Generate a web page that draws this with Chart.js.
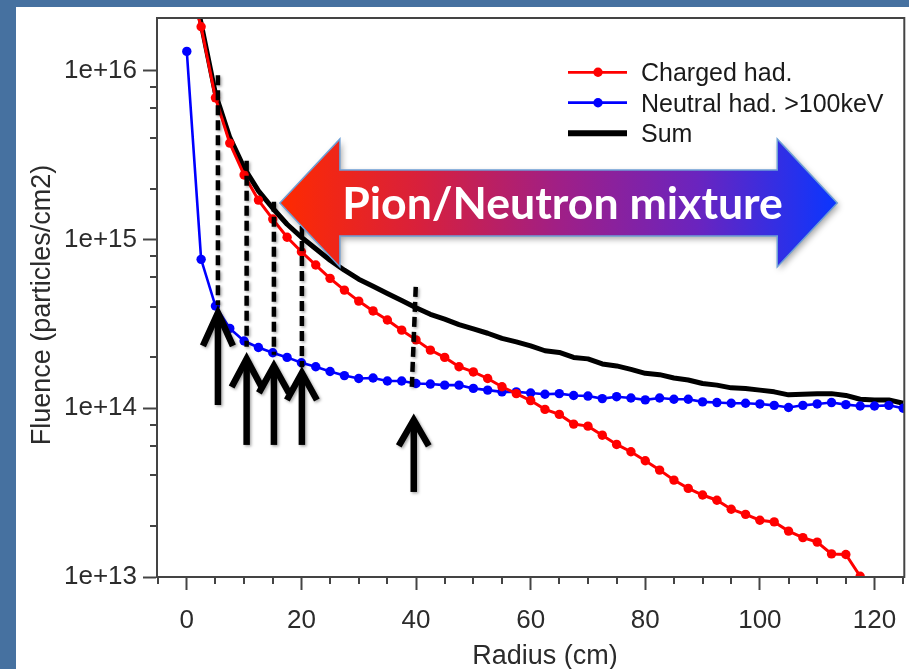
<!DOCTYPE html>
<html>
<head>
<meta charset="utf-8">
<script src="https://cdn.jsdelivr.net/npm/chart.js@4.4.1/dist/chart.umd.min.js"></script>
<style>
  html, body { margin: 0; padding: 0; width: 909px; height: 669px; overflow: hidden; background: #4671a0; }
  #wrap { position: absolute; left: 16px; top: 7px; width: 893px; height: 662px; background: #ffffff; }
  canvas { display: block; }
</style>
</head>
<body>
<div id="wrap"><canvas id="fluence" width="893" height="662"></canvas></div>
<script>
// Radial positions of the scoring bins (cm)
const radius = [0, 2.5, 5, 7.5, 10, 12.5, 15, 17.5, 20, 22.5, 25, 27.5, 30, 32.5, 35, 37.5, 40,
  42.5, 45, 47.5, 50, 52.5, 55, 57.5, 60, 62.5, 65, 67.5, 70, 72.5, 75, 77.5, 80, 82.5, 85, 87.5,
  90, 92.5, 95, 97.5, 100, 102.5, 105, 107.5, 110, 112.5, 115, 117.5, 120, 122.5, 125];

// Fluence per species (particles/cm2)
const chargedHad = [3.6e16, 1.82e16, 6.9e15, 3.72e15, 2.41e15, 1.71e15, 1.32e15, 1.03e15, 8.45e14,
  7.05e14, 5.88e14, 5.01e14, 4.31e14, 3.77e14, 3.33e14, 2.90e14, 2.54e14, 2.21e14, 2.00e14, 1.76e14,
  1.64e14, 1.50e14, 1.34e14, 1.22e14, 1.11e14, 9.84e13, 9.19e13, 8.05e13, 7.83e13, 6.92e13, 6.10e13,
  5.52e13, 4.88e13, 4.30e13, 3.75e13, 3.35e13, 3.06e13, 2.85e13, 2.52e13, 2.35e13, 2.17e13, 2.12e13,
  1.87e13, 1.71e13, 1.61e13, 1.37e13, 1.36e13, 1.01e13, null, null, null];

const neutralHad = [1.30e16, 7.62e14, 4.03e14, 2.97e14, 2.50e14, 2.29e14, 2.13e14, 2.00e14, 1.86e14,
  1.76e14, 1.65e14, 1.56e14, 1.50e14, 1.51e14, 1.45e14, 1.45e14, 1.40e14, 1.39e14, 1.37e14, 1.37e14,
  1.31e14, 1.28e14, 1.25e14, 1.25e14, 1.23e14, 1.21e14, 1.22e14, 1.19e14, 1.18e14, 1.14e14, 1.17e14,
  1.15e14, 1.12e14, 1.15e14, 1.13e14, 1.13e14, 1.09e14, 1.08e14, 1.07e14, 1.07e14, 1.06e14, 1.04e14,
  1.01e14, 1.04e14, 1.06e14, 1.08e14, 1.05e14, 1.03e14, 1.03e14, 1.04e14, 1.00e14];

const sumHad = [4.9e16, 1.90e16, 7.3e15, 4.02e15, 2.66e15, 1.94e15, 1.53e15, 1.23e15, 1.03e15,
  8.81e14, 7.53e14, 6.57e14, 5.81e14, 5.28e14, 4.78e14, 4.35e14, 3.94e14, 3.60e14, 3.37e14, 3.13e14,
  2.95e14, 2.78e14, 2.59e14, 2.47e14, 2.34e14, 2.19e14, 2.14e14, 2.00e14, 1.96e14, 1.83e14, 1.78e14,
  1.70e14, 1.61e14, 1.58e14, 1.51e14, 1.47e14, 1.40e14, 1.37e14, 1.32e14, 1.31e14, 1.28e14, 1.25e14,
  1.20e14, 1.21e14, 1.22e14, 1.22e14, 1.19e14, 1.13e14, 1.12e14, 1.12e14, 1.07e14];

const seriesLabels = ['Charged had.', 'Neutral had. >100keV', 'Sum'];

// Axis ticks
const xTickValues = [0, 20, 40, 60, 80, 100, 120];
const xTickLabels = ['0', '20', '40', '60', '80', '100', '120'];
const yTickValues = [1e13, 1e14, 1e15, 1e16];
const yTickLabels = ['1e+13', '1e+14', '1e+15', '1e+16'];
const xTitle = 'Radius (cm)';
const yTitle = 'Fluence (particles/cm2)';

// Annotation overlay, given in axis units (cm, particles/cm2)
const guideLines = [
  { x1: 5.43,  y1: 9.4e15,  x2: 5.43,  y2: 4.09e14 },
  { x1: 10.44, y1: 2.92e15, x2: 10.44, y2: 2.31e14 },
  { x1: 15.2,  y1: 1.67e15, x2: 15.2,  y2: 2.07e14 },
  { x1: 20.08, y1: 1.20e15, x2: 20.08, y2: 1.75e14 },
  { x1: 39.95, y1: 5.23e14, x2: 39.26, y2: 1.32e14 }
];
const upArrows = [
  { x: 5.43,  tip: 3.82e14,  tail: 1.045e14, len: 36 },
  { x: 10.44, tip: 2.04e14,  tail: 6.06e13,  len: 31 },
  { x: 15.2,  tip: 1.854e14, tail: 6.06e13,  len: 30 },
  { x: 20.08, tip: 1.685e14, tail: 6.06e13,  len: 30 },
  { x: 39.6,  tip: 8.87e13,  tail: 3.19e13,  len: 29 }
];
const mixtureBand = { from: 16.24, to: 113.5, center: 1.645e15, text: 'Pion/Neutron mixture' };

const FONT = '"Liberation Sans", Arial, Helvetica, sans-serif';
const INK = '#2b2b2b';
const AXIS = '#444444';
const DOT = 4.7;

const toPoints = vals => radius.map((r, i) => ({ x: r, y: vals[i] }));

// Frame, minor ticks, guide lines, arrows and the banner
const overlay = {
  id: 'overlay',
  afterDatasetsDraw(chart) {
    const { ctx, chartArea: a, scales: { x, y } } = chart;
    ctx.save();
    ctx.strokeStyle = AXIS;
    ctx.lineWidth = 2;
    ctx.strokeRect(a.left, a.top, a.right - a.left, a.bottom - a.top);

    // minor ticks
    ctx.beginPath();
    for (let n = 13; n <= 15; n++) {
      for (const m of [2, 4, 6, 8]) {
        const py = Math.round(y.getPixelForValue(m * Math.pow(10, n)));
        ctx.moveTo(a.left - 7, py);
        ctx.lineTo(a.left, py);
      }
    }
    for (let v = -5; v <= 125; v += 5) {
      if (v % 20 === 0) continue;
      const px = Math.round(x.getPixelForValue(v));
      ctx.moveTo(px, a.bottom);
      ctx.lineTo(px, a.bottom + 7);
    }
    ctx.stroke();

    // dashed guides
    ctx.shadowColor = 'rgba(0,0,0,0.35)';
    ctx.shadowBlur = 3;
    ctx.shadowOffsetX = 1.5;
    ctx.shadowOffsetY = 1.5;
    ctx.strokeStyle = '#000';
    ctx.lineWidth = 4.5;
    ctx.setLineDash([10, 5]);
    for (const g of guideLines) {
      ctx.beginPath();
      ctx.moveTo(x.getPixelForValue(g.x1), y.getPixelForValue(g.y1));
      ctx.lineTo(x.getPixelForValue(g.x2), y.getPixelForValue(g.y2));
      ctx.stroke();
    }
    ctx.setLineDash([]);

    // upward arrows
    ctx.lineWidth = 6.5;
    ctx.lineJoin = 'miter';
    ctx.lineCap = 'butt';
    for (const ar of upArrows) {
      const px = x.getPixelForValue(ar.x);
      const tipY = y.getPixelForValue(ar.tip);
      const tailY = y.getPixelForValue(ar.tail);
      const half = 15;
      ctx.beginPath();
      ctx.moveTo(px, tailY);
      ctx.lineTo(px, tipY + 4);
      ctx.stroke();
      ctx.beginPath();
      ctx.moveTo(px - half, tipY + ar.len);
      ctx.lineTo(px, tipY + 3);
      ctx.lineTo(px + half, tipY + ar.len);
      ctx.stroke();
    }

    // double-headed banner
    const x1 = x.getPixelForValue(mixtureBand.from);
    const x2 = x.getPixelForValue(mixtureBand.to);
    const yc = y.getPixelForValue(mixtureBand.center);
    const headLen = 60, headHalf = 64, shaftHalf = 33;
    ctx.beginPath();
    ctx.moveTo(x1, yc);
    ctx.lineTo(x1 + headLen, yc - headHalf);
    ctx.lineTo(x1 + headLen, yc - shaftHalf);
    ctx.lineTo(x2 - headLen, yc - shaftHalf);
    ctx.lineTo(x2 - headLen, yc - headHalf);
    ctx.lineTo(x2, yc);
    ctx.lineTo(x2 - headLen, yc + headHalf);
    ctx.lineTo(x2 - headLen, yc + shaftHalf);
    ctx.lineTo(x1 + headLen, yc + shaftHalf);
    ctx.lineTo(x1 + headLen, yc + headHalf);
    ctx.closePath();
    const grad = ctx.createLinearGradient(x1, 0, x2, 0);
    grad.addColorStop(0, '#ff2a00');
    grad.addColorStop(0.25, '#d8203c');
    grad.addColorStop(0.5, '#a01f86');
    grad.addColorStop(0.75, '#6a24bf');
    grad.addColorStop(1, '#0a36ff');
    ctx.shadowColor = 'rgba(0,0,0,0.35)';
    ctx.shadowBlur = 6;
    ctx.shadowOffsetX = 2;
    ctx.shadowOffsetY = 3;
    ctx.fillStyle = grad;
    ctx.fill();
    ctx.shadowColor = 'transparent';
    ctx.lineWidth = 1.5;
    ctx.lineJoin = 'miter';
    ctx.strokeStyle = '#6d9fd6';
    ctx.stroke();

    ctx.fillStyle = '#ffffff';
    let size = 43;
    ctx.font = `bold ${size}px Lato, "Open Sans", sans-serif`;
    const w = ctx.measureText(mixtureBand.text).width;
    size = size * 441 / w;
    ctx.font = `bold ${size.toFixed(1)}px Lato, "Open Sans", sans-serif`;
    ctx.textAlign = 'center';
    ctx.textBaseline = 'alphabetic';
    ctx.fillText(mixtureBand.text, (x1 + x2) / 2 + 4, yc + 16);
    ctx.restore();
  },
  afterDraw(chart) {
    const { ctx } = chart;
    ctx.save();
    // legend, inside the plot at top right
    const rows = [65.3, 95.7, 126.3];
    chart.data.datasets.forEach((ds, i) => {
      const yy = rows[i];
      ctx.strokeStyle = ds.borderColor;
      ctx.lineWidth = i === 2 ? 6 : 2.8;
      ctx.beginPath();
      ctx.moveTo(552, yy);
      ctx.lineTo(611, yy);
      ctx.stroke();
      if (ds.pointRadius > 0) {
        ctx.fillStyle = ds.pointBackgroundColor;
        ctx.beginPath();
        ctx.arc(582, yy, DOT, 0, Math.PI * 2);
        ctx.fill();
      }
      ctx.fillStyle = '#1a1a1a';
      ctx.font = `25px ${FONT}`;
      ctx.textAlign = 'left';
      ctx.textBaseline = 'alphabetic';
      ctx.fillText(ds.label, 625, yy + 9);
    });

    // axis titles
    ctx.fillStyle = INK;
    ctx.font = `27px ${FONT}`;
    ctx.textAlign = 'center';
    ctx.textBaseline = 'alphabetic';
    ctx.fillText(xTitle, 529, 657);
    ctx.translate(34, 298);
    ctx.rotate(-Math.PI / 2);
    ctx.fillText(yTitle, 0, 0);
    ctx.restore();
  }
};

new Chart(document.getElementById('fluence'), {
  type: 'line',
  data: {
    datasets: [
      { label: seriesLabels[0], data: toPoints(chargedHad), borderColor: '#ff0000', backgroundColor: '#ff0000',
        pointBackgroundColor: '#ff0000', pointRadius: DOT, pointBorderWidth: 0, borderWidth: 3, order: 1 },
      { label: seriesLabels[1], data: toPoints(neutralHad), borderColor: '#0000ff', backgroundColor: '#0000ff',
        pointBackgroundColor: '#0000ff', pointRadius: DOT, pointBorderWidth: 0, borderWidth: 2.6, order: 2 },
      { label: seriesLabels[2], data: toPoints(sumHad), borderColor: '#000000', backgroundColor: '#000000',
        pointBackgroundColor: '#000000', pointRadius: 0, borderWidth: 5, borderJoinStyle: 'round', order: 3 }
    ]
  },
  options: {
    responsive: false,
    animation: false,
    devicePixelRatio: 1,
    layout: { padding: { left: 0, top: 11, right: 4, bottom: 0 } },
    elements: { line: { tension: 0 }, point: { hoverRadius: DOT } },
    plugins: { legend: { display: false }, tooltip: { enabled: false } },
    events: [],
    scales: {
      x: {
        type: 'linear', min: -5.2, max: 125.2,
        afterBuildTicks: s => { s.ticks = xTickValues.map(v => ({ value: v })); },
        afterFit: s => { s.height = 92; s.paddingLeft = 0; s.paddingRight = 0; },
        ticks: { callback: (v, i) => xTickLabels[i], autoSkip: false, maxRotation: 0, padding: 15,
          color: INK, font: { family: FONT, size: 26 } },
        grid: { drawOnChartArea: false, drawTicks: true, tickLength: 13, tickWidth: 2, tickColor: AXIS },
        border: { display: true, color: AXIS, width: 2 }
      },
      y: {
        type: 'logarithmic', min: 1e13, max: 2.05e16,
        afterBuildTicks: s => { s.ticks = yTickValues.map(v => ({ value: v })); },
        afterFit: s => { s.width = 141; s.paddingTop = 0; s.paddingBottom = 0; },
        ticks: { callback: (v, i) => yTickLabels[i], autoSkip: false, padding: 6,
          color: INK, font: { family: FONT, size: 26 } },
        grid: { drawOnChartArea: false, drawTicks: true, tickLength: 14, tickWidth: 2, tickColor: AXIS },
        border: { display: true, color: AXIS, width: 2 }
      }
    }
  },
  plugins: [overlay]
});
</script>
</body>
</html>
